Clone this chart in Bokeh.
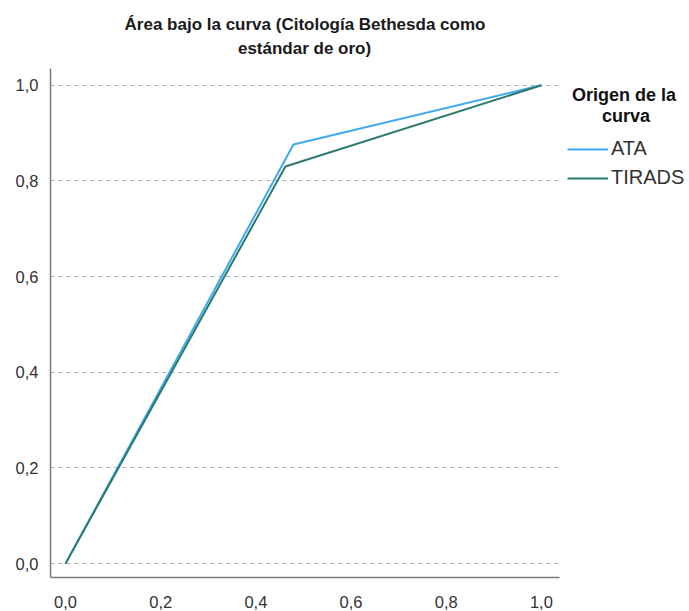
from bokeh.plotting import figure
from bokeh.models import FixedTicker, Legend, LegendItem, Title, Range1d
from bokeh.embed import file_html
from bokeh.resources import INLINE

# data
ata_x = [0.0, 0.479, 1.0]
ata_y = [0.0, 0.876, 1.0]
tirads_x = [0.0, 0.462, 1.0]
tirads_y = [0.0, 0.830, 1.0]
ticks = [0.0, 0.2, 0.4, 0.6, 0.8, 1.0]
tick_labels = ["0,0", "0,2", "0,4", "0,6", "0,8", "1,0"]
title_lines = ["Área bajo la curva (Citología Bethesda como", "estándar de oro)"]
legend_title_lines = ["Origen de la", "curva"]
series_names = ["ATA", "TIRADS"]

NB = "\u00a0"
title_text = title_lines[0] + "\n" + NB * 24 + title_lines[1]
legend_title = NB + legend_title_lines[0] + "\n" + NB * 7 + legend_title_lines[1]

p = figure(frame_width=509, frame_height=509, min_border_left=50, min_border_top=68,
           min_border_bottom=34, min_border_right=0, output_backend="svg",
           toolbar_location=None, x_range=Range1d(-0.0315, 1.038), y_range=Range1d(-0.029, 1.035))
p.outline_line_color = None
p.background_fill_color = "white"
p.border_fill_color = "white"

p.add_layout(Title(text=title_text, align="center", text_font="Liberation Sans",
                   text_font_size="17px", text_font_style="bold", text_color="#1a1a1a",
                   text_line_height=1.25, standoff=21), "above")

r1 = p.line(ata_x, ata_y, line_color="#3FA9F0", line_width=2)
r2 = p.line(tirads_x, tirads_y, line_color="#2B7A70", line_width=2)

for ax in (p.xaxis, p.yaxis):
    ax.ticker = FixedTicker(ticks=ticks)
    ax.major_label_overrides = {t: l for t, l in zip(ticks, tick_labels)}
    ax.major_tick_line_color = None
    ax.minor_tick_line_color = None
    ax.axis_line_color = "#7a7a7a"
    ax.axis_line_width = 1.5
    ax.major_label_text_font = "Liberation Sans"
    ax.major_label_text_font_size = "16.5px"
    ax.major_label_text_color = "#333333"
p.xaxis.major_label_standoff = 12
p.yaxis.major_label_standoff = 6

p.xgrid.grid_line_color = None
p.ygrid.grid_line_color = "#b0b0b0"
p.ygrid.grid_line_dash = "4 4"

legend = Legend(items=[LegendItem(label=series_names[0], renderers=[r1]),
                       LegendItem(label=series_names[1], renderers=[r2])],
                location=(8, 388), title=legend_title,
                title_text_font="Liberation Sans", title_text_font_size="18px",
                title_text_font_style="bold", title_text_color="#111111", title_standoff=10,
                title_text_line_height=0.95,
                background_fill_alpha=0, border_line_color=None,
                label_text_font="Liberation Sans", label_text_font_size="20px",
                label_text_color="#333333", glyph_width=41, label_standoff=3, spacing=6,
                padding=6, margin=6)
p.add_layout(legend, "right")

open("out.html", "w").write(file_html(p, INLINE))
